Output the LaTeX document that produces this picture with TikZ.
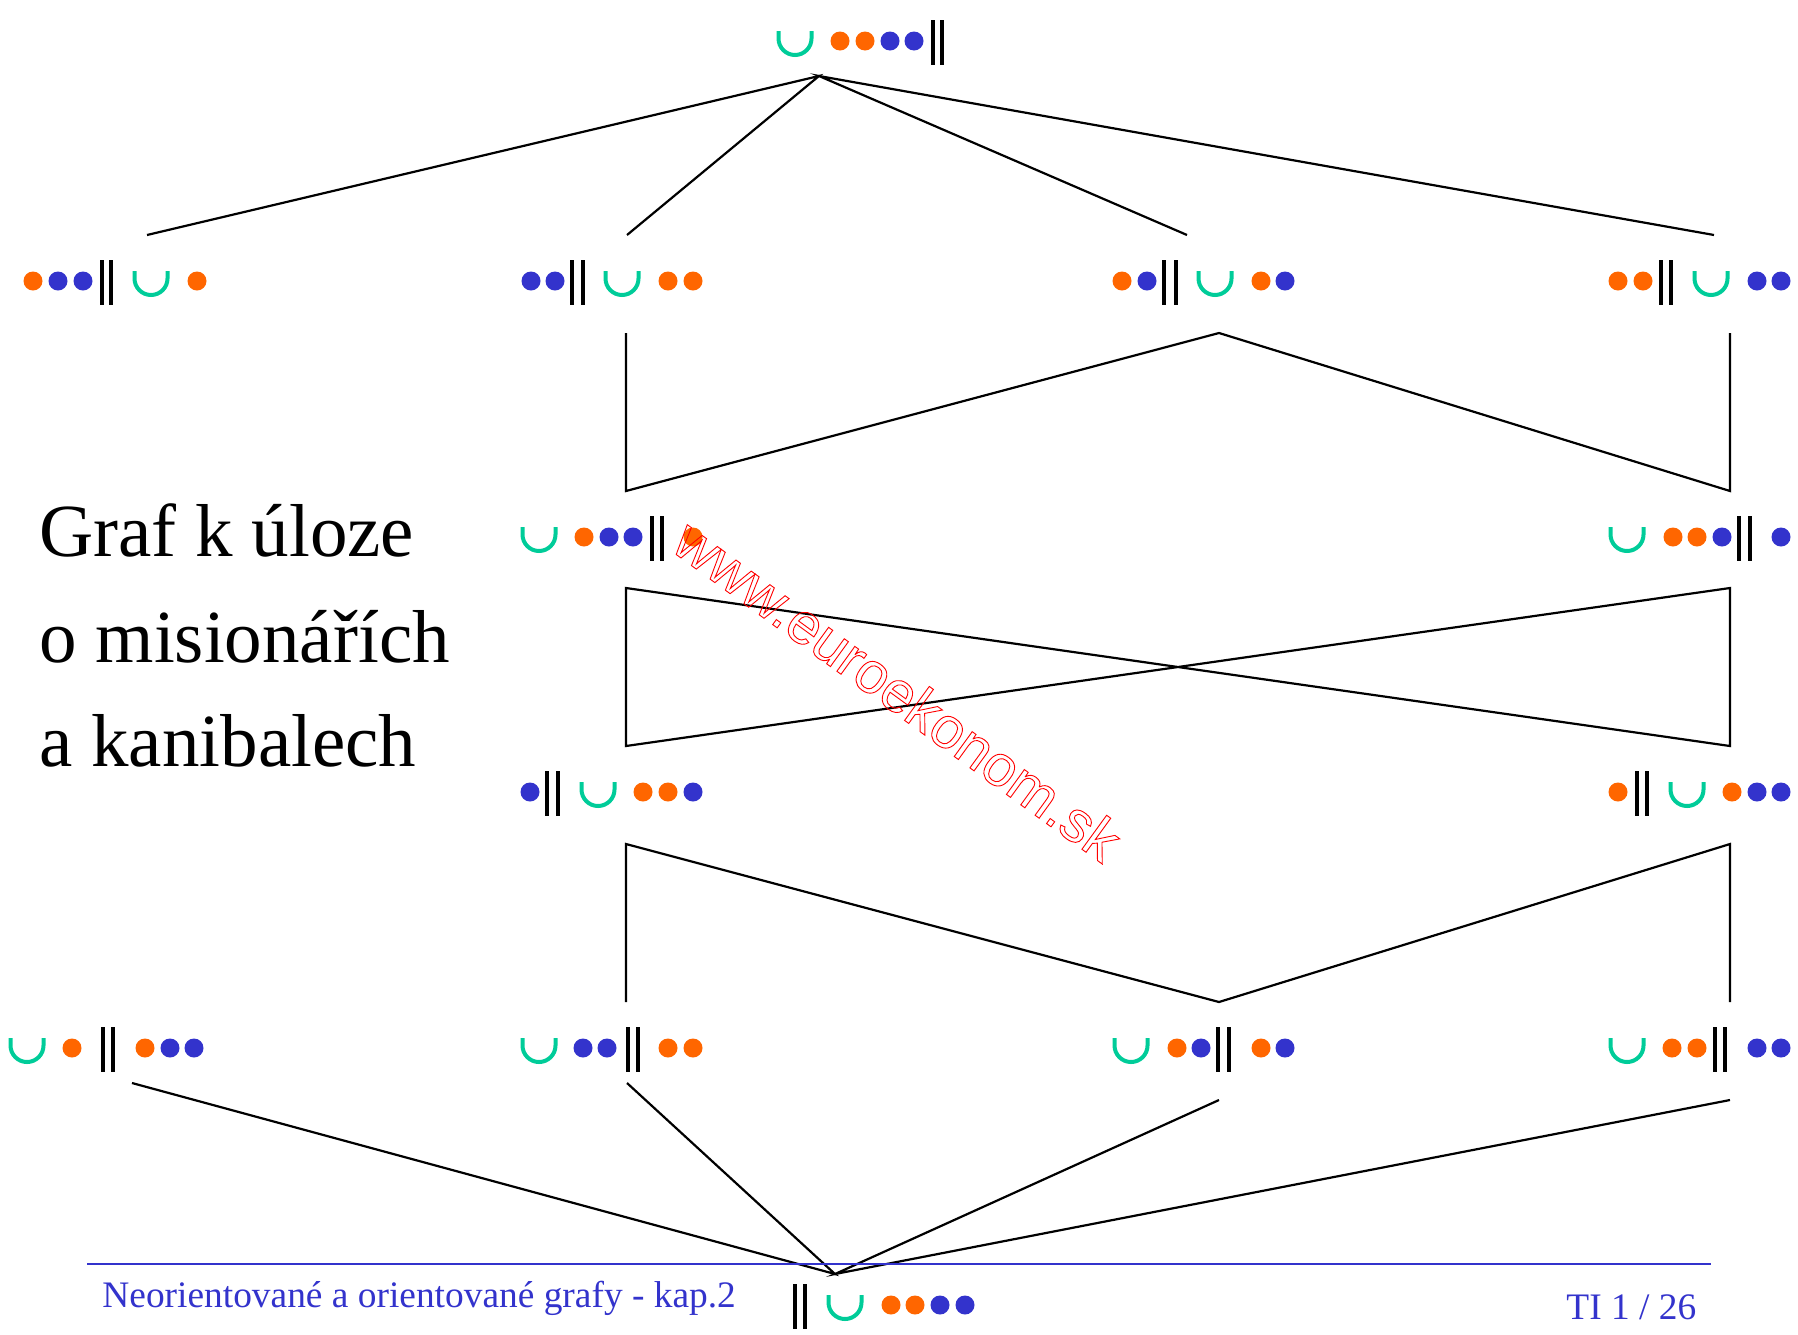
\documentclass[tikz,border=0pt]{standalone}
\usepackage{fontspec}
\setmainfont{Liberation Serif}
\newfontfamily\wmfont{Liberation Sans}
\definecolor{dotor}{HTML}{FF6600}
\definecolor{dotbl}{HTML}{3333CC}
\definecolor{cupgr}{HTML}{00CC99}
\definecolor{footbl}{HTML}{3333CC}
\newcommand\mcO[2]{\fill[dotor] (#1,#2) circle[radius=4.75pt];}
\newcommand\mcB[2]{\fill[dotbl] (#1,#2) circle[radius=4.75pt];}
\newcommand\mcU[2]{\draw[cupgr,line width=2pt,shift={(#1,#2)}] (-16.5,-10) -- (-16.5,-2.5) .. controls (-16.5,6.6) and (-9.1,14) .. (0,14) .. controls (9.1,14) and (16.5,6.6) .. (16.5,-2.5) -- (16.5,-10);}
\newcommand\mcI[2]{\draw[line width=2pt] (#1,#2-21) -- (#1,#2+24);}
\newcommand\stateitems[2]{\foreach \t/\x in {#2} {\csname mc\t\endcsname{\x}{#1}}}
\newcommand\outlinetext[1]{\special{pdf:literal direct 1 Tr 0.45 w 1 0 0 RG}#1\special{pdf:literal direct 0 Tr 0 0 0 RG}}
\tikzset{
  edge/.style={line width=1.1pt, line join=miter},
  state/.style={inner sep=0pt, minimum size=0pt},
  bigtext/.style={anchor=base west, inner sep=0pt, font=\fontsize{37.5}{45}\selectfont},
  foottext/.style={anchor=base west, inner sep=0pt, text=footbl, font=\fontsize{18.7}{22}\selectfont},
}
\begin{document}
\begin{tikzpicture}[x=0.5pt,y=-0.5pt]
\path[use as bounding box] (0,0) rectangle (1798,1334);
% states
\node[state] (s0) at (870,41) {};
\stateitems{41}{U/795,O/840,O/865,B/890,B/914,I/933,I/942}
\node[state] (sA) at (115,281) {};
\stateitems{281}{O/33,B/58,B/83,I/102,I/111,U/151,O/197}
\node[state] (sB) at (612,281) {};
\stateitems{281}{B/531,B/555,I/572,I/583,U/622,O/668,O/693}
\node[state] (sC) at (1204,281) {};
\stateitems{281}{O/1122,B/1147,I/1164,I/1176,U/1215,O/1261,B/1285}
\node[state] (sD) at (1700,281) {};
\stateitems{281}{O/1618,O/1643,I/1661,I/1671,U/1711,B/1757,B/1781}
\node[state] (sE) at (616,537) {};
\stateitems{537}{U/539,O/584,B/609,B/633,I/652,I/662,O/693}
\node[state] (sF) at (1704,537) {};
\stateitems{537}{U/1627,O/1673,O/1697,B/1722,I/1739,I/1750,B/1781}
\node[state] (sG) at (612,792) {};
\stateitems{792}{B/530,I/547,I/558,U/598,O/643,O/668,B/693}
\node[state] (sH) at (1700,792) {};
\stateitems{792}{O/1618,I/1637,I/1647,U/1687,O/1732,B/1757,B/1781}
\node[state] (sI) at (110,1048) {};
\stateitems{1048}{U/27,O/72,I/103,I/113,O/145,B/170,B/194}
\node[state] (sJ) at (616,1048) {};
\stateitems{1048}{U/539,B/583,B/607,I/628,I/638,O/668,O/693}
\node[state] (sK) at (1208,1048) {};
\stateitems{1048}{U/1131,O/1177,B/1201,I/1218,I/1229,O/1261,B/1285}
\node[state] (sL) at (1704,1048) {};
\stateitems{1048}{U/1627,O/1672,O/1697,I/1715,I/1725,B/1757,B/1781}
\node[state] (sZ) at (880,1305) {};
\stateitems{1305}{I/795,I/805,U/845,O/891,O/915,B/940,B/965}
% connector end points
\coordinate (t0) at (819,76);
\coordinate (a1) at (147,235);
\coordinate (b1) at (627,235);
\coordinate (c1) at (1187,235);
\coordinate (d1) at (1714,235);
\coordinate (p1) at (626,333);
\coordinate (p2) at (626,491);
\coordinate (p3) at (1219,333);
\coordinate (p4) at (1730,491);
\coordinate (p5) at (1730,333);
\coordinate (q1) at (626,588);
\coordinate (q2) at (626,746);
\coordinate (q3) at (1730,588);
\coordinate (q4) at (1730,746);
\coordinate (r1) at (626,1002);
\coordinate (r2) at (626,844);
\coordinate (r3) at (1219,1002);
\coordinate (r4) at (1730,844);
\coordinate (r5) at (1730,1002);
\coordinate (e1) at (132,1083);
\coordinate (e2) at (627,1083);
\coordinate (e3) at (1219,1100);
\coordinate (e4) at (1730,1100);
\coordinate (z0) at (835,1274);
% connectors
\draw[edge] (a1) -- (t0) -- (b1);
\draw[edge] (c1) -- (t0) -- (d1);
\draw[edge] (p1) -- (p2) -- (p3) -- (p4) -- (p5);
\draw[edge] (q1) -- (q2) -- (q3) -- (q4) -- cycle;
\draw[edge] (r1) -- (r2) -- (r3) -- (r4) -- (r5);
\draw[edge] (e1) -- (z0) -- (e2);
\draw[edge] (e3) -- (z0) -- (e4);
% footer rule
\coordinate (f1) at (87,1264);
\coordinate (f2) at (1711,1264);
\draw[footbl, line width=1pt] (f1) -- (f2);
% texts
\node[bigtext] (g1) at (39,556) {Graf k úloze};
\node[bigtext] (g2) at (39,662) {o misionářích};
\node[bigtext] (g3) at (39,766) {a kanibalech};
\node[foottext] (ft) at (102,1307) {Neorientované a orientované grafy - kap.2};
\node[foottext] (pg) at (1566,1319) {TI 1 / 26};
\node[rotate=-36, inner sep=0pt, font=\wmfont\fontsize{29}{35}\selectfont] (wm) at (898,690)
  {\outlinetext{www.euroekonom.sk}};
\end{tikzpicture}
\end{document}
